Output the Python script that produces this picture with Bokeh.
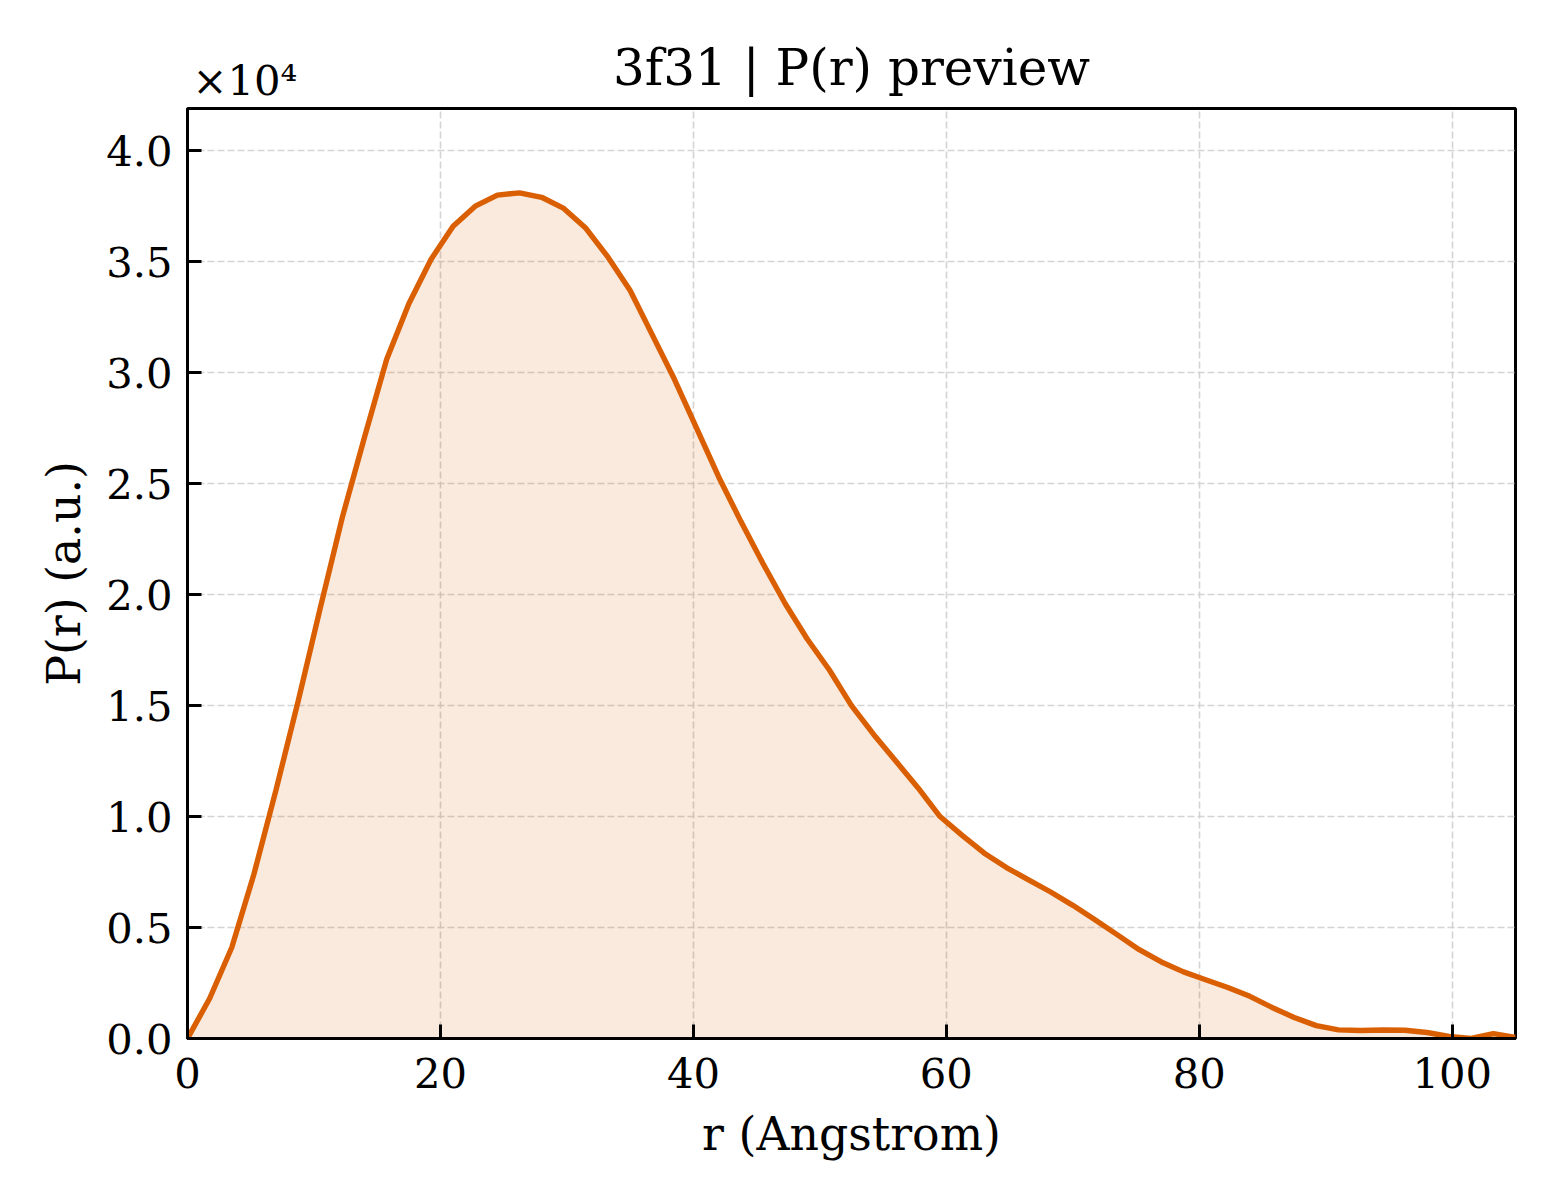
from bokeh.plotting import figure
from bokeh.models import Range1d, FixedTicker, CustomJSTickFormatter, Title, ColumnDataSource
from bokeh.embed import file_html
from bokeh.resources import INLINE

# P(r) (r in Angstrom, P in a.u.)
r_values = [1.75 * i for i in range(61)]
p_values = [
    0, 1800, 4100, 7400, 11200, 15200, 19400, 23500, 27100, 30600,
    33100, 35100, 36600, 37500, 38000, 38100, 37900, 37400, 36500, 35200,
    33700, 31700, 29700, 27500, 25300, 23300, 21400, 19600, 18000, 16600,
    15000, 13700, 12500, 11300, 10000, 9150, 8350, 7700, 7150, 6600,
    6000, 5350, 4680, 4000, 3450, 3000, 2650, 2300, 1900, 1400,
    950, 580, 390, 360, 380, 370, 270, 90, 0, 220, 50,
]
x_ticks = [0, 20, 40, 60, 80, 100]
y_ticks = [0, 5000, 10000, 15000, 20000, 25000, 30000, 35000, 40000]

title_text = "3f31 | P(r) preview"
x_label = "r (Angstrom)"
y_label = "P(r) (a.u.)"
offset_text = "×10⁴"

FONT = "DejaVu Serif"
LINE = "#d95f02"

src = ColumnDataSource(dict(r=r_values, p=p_values, zero=[0] * len(r_values)))

W, H = 1544, 1184
p = figure(width=W, height=H, output_backend="svg", toolbar_location=None,
           x_range=Range1d(0, 105), y_range=Range1d(0, 41900),
           min_border_left=187, min_border_right=W - 1515, min_border_top=108,
           min_border_bottom=H - 1038)

# offset text (x10^4), closest to the frame, left-aligned
p.add_layout(Title(text=offset_text, align="left", offset=5, standoff=8,
                   text_font=FONT, text_font_size="41.7px", text_font_style="normal",
                   text_color="black"), "above")
# main title, pulled down onto the same band
p.add_layout(Title(text=title_text, align="center", standoff=-94,
                   text_font=FONT, text_font_size="50px", text_font_style="normal",
                   text_color="black"), "above")

p.varea(x="r", y1="zero", y2="p", source=src, fill_color=LINE, fill_alpha=0.13)
p.line(x="r", y="p", source=src, line_color=LINE, line_width=5.4)

p.outline_line_color = "black"
p.outline_line_width = 3
p.outline_line_alpha = 1

for ax in (p.xaxis[0], p.yaxis[0]):
    ax.axis_line_color = "black"
    ax.axis_line_width = 3
    ax.major_tick_in = 14
    ax.major_tick_out = 0
    ax.major_tick_line_width = 3
    ax.major_tick_line_color = "black"
    ax.minor_tick_line_color = None
    ax.major_label_text_font = FONT
    ax.major_label_text_font_size = "41.7px"
    ax.major_label_text_color = "black"
    ax.axis_label_text_font = FONT
    ax.axis_label_text_font_size = "45.8px"
    ax.axis_label_text_font_style = "normal"
    ax.axis_label_text_color = "black"

p.xaxis[0].major_label_standoff = 19
p.xaxis[0].axis_label_standoff = 16
p.yaxis[0].major_label_standoff = 15
p.yaxis[0].axis_label_standoff = 12

p.xaxis[0].ticker = FixedTicker(ticks=x_ticks)
p.yaxis[0].ticker = FixedTicker(ticks=y_ticks)
p.yaxis[0].formatter = CustomJSTickFormatter(code="return (tick/1e4).toFixed(1);")
p.xaxis[0].axis_label = x_label
p.yaxis[0].axis_label = y_label

for g in (p.xgrid[0], p.ygrid[0]):
    g.grid_line_color = "#cfcfcf"
    g.grid_line_width = 1.6
    g.grid_line_dash = "7 3"
    g.grid_line_alpha = 0.9

p.background_fill_color = "white"
p.border_fill_color = "white"

open("out.html", "w").write(file_html(p, INLINE))
